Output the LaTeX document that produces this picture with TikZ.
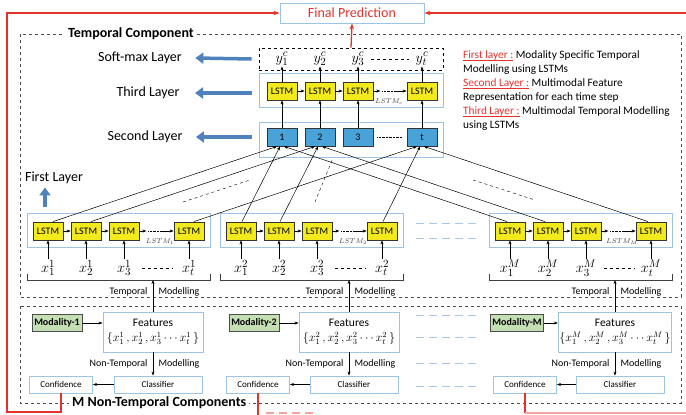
\documentclass[tikz,border=0pt]{standalone}
\usepackage{fontspec}
\setmainfont{Carlito}
\usetikzlibrary{arrows.meta, positioning, calc}
\definecolor{cellyellow}{HTML}{F2EA1C}
\definecolor{cellblue}{HTML}{4AA3D8}
\definecolor{frameblue}{HTML}{9DC3E6}
\definecolor{pointblue}{HTML}{4F81BD}
\definecolor{modgreen}{HTML}{C5DFB4}
\definecolor{predred}{HTML}{E5322D}
\definecolor{fadered}{HTML}{F5A3A3}
\definecolor{gapblue}{HTML}{A8C6E6}
% red underlined heading in the notes
\newcommand\redmark[1]{\textcolor{predred}{\setbox0\hbox{#1}\rlap{\rule[-2.6pt]{\wd0}{0.5pt}}\box0}}

\begin{document}
\begin{tikzpicture}[x=1pt, y=-1pt,
    lstm/.style={draw=black!80, line width=0.8pt, fill=cellyellow, minimum width=30pt,
        minimum height=18pt, inner sep=0pt, font=\fontsize{10}{10}\selectfont},
    cell/.style={lstm, fill=cellblue},
    holder/.style={draw=frameblue, line width=0.9pt},
    plainbox/.style={draw=frameblue, line width=0.9pt, inner sep=1pt},
    modality/.style={draw=black!70, line width=0.8pt, fill=modgreen, minimum width=50pt,
        minimum height=17pt, inner sep=2pt, font=\fontsize{10}{10}\selectfont\bfseries},
    conn/.style={-{Stealth[length=4pt,width=3pt]}, line width=0.5pt},
    fat/.style={pointblue, line width=3.5pt, -{Triangle[length=8pt,width=11pt]}},
    layername/.style={font=\fontsize{14}{16}\selectfont},
    lbl/.style={font=\fontsize{10}{12}\selectfont},
    var/.style={font=\fontsize{15}{17}\selectfont, inner sep=0.5pt},
    redline/.style={predred, line width=1.3pt},
    part/.style={dashed, line width=0.9pt, black!70},
    gap/.style={gapblue, line width=0.9pt, dash pattern=on 8pt off 5pt}
  ]
  \useasboundingbox (0,0) rectangle (686,415);

  % Output
  \node[plainbox, minimum width=144pt, minimum height=20pt, text=predred, layername] (fp) at (352,13) {Final Prediction};

  % Dashed parts
  \draw[part] (20,34) rectangle (681,297);
  \node[fill=white, anchor=west, inner sep=3pt, font=\fontsize{14}{16}\selectfont\bfseries] at (65,34) {Temporal Component};
  \draw[part] (20,306) rectangle (681,403);
  \node[fill=white, anchor=west, inner sep=3pt, font=\fontsize{14}{16}\selectfont\bfseries] at (69,403) {M Non-Temporal Components};

  % Upper layers
  \node[draw, dashed, line width=0.8pt, minimum width=184pt, minimum height=22pt] (soft) at (351,59) {};
  \node[holder, minimum width=184pt, minimum height=34pt] (third) at (351,90) {};
  \node[holder, minimum width=184pt, minimum height=35pt] (second) at (351,139.5) {};
  \foreach \i/\x in {1/282, 2/320, 3/358, t/422} {
    \node[var] (y\i) at (\x,59) {$y_{\i}^{c}$};
    \node[lstm] (c\i) at (\x,91) {LSTM};
    \node[cell] (v\i) at (\x,137) {\i};
    \draw[conn] (v\i) -- (c\i);
    \draw[conn] (c\i) -- (y\i);
  }
  \draw[dashed, line width=0.8pt] ([xshift=6pt]y3.east) -- ([xshift=-6pt]yt.west);
  \draw[conn] (c1) -- (c2);
  \draw[conn] (c2) -- (c3);
  \draw[conn] (c3.east) -- ++(7,0);
  \draw[densely dotted] ([xshift=9pt]c3.east) -- ([xshift=21pt]c3.east);
  \draw[conn] ([xshift=21pt]c3.east) -- (ct.west);
  \node[font=\fontsize{7}{8}\selectfont, text=black!75] at (389,102) {$LSTM_c$};
  \draw[densely dotted] ([xshift=4pt]v3.east) -- ([xshift=-4pt]vt.west);
  \draw[redline, -{Stealth[length=6pt]}] (soft.north) -- (fp.south);

  % Layer names
  \node[layername] (sml) at (140,58) {Soft-max Layer};
  \node[layername] (tl) at (148,93) {Third Layer};
  \node[layername] (sl) at (145,137) {Second Layer};
  \node[layername] (fl) at (54,178) {First Layer};
  \draw[fat] ([xshift=-7pt]soft.west) -- ([xshift=10pt]sml.east);
  \draw[fat] ([xshift=-7pt]third.west |- tl) -- ([xshift=12pt]tl.east);
  \draw[fat] ([xshift=-7pt]second.west |- sl) -- ([xshift=10pt]sl.east);
  \draw[fat] (45,207) -- (fl.south -| 45,0);

  % Notes
  \node[anchor=north west, align=left, inner sep=0pt, font=\fontsize{11.3}{14}\selectfont] (notes) at (463,50) {%
    \redmark{First layer :} Modality Specific Temporal\\
    Modelling using LSTMs\\
    \redmark{Second Layer :} Multimodal Feature\\
    Representation for each time step\\
    \redmark{Third Layer :} Multimodal Temporal Modelling\\
    using LSTMs};

  % First layer: one LSTM chain per modality
  \foreach \g/\b in {1/48, 2/241, M/510} {
    \draw[holder] (\b-21,213) rectangle (\b+162,247);
    \node[lstm] (l\g-1) at (\b,231) {LSTM};
    \node[lstm] (l\g-2) at (\b+38,231) {LSTM};
    \node[lstm] (l\g-3) at (\b+76,231) {LSTM};
    \node[lstm] (l\g-t) at (\b+141,231) {LSTM};
    \draw[conn] (l\g-1) -- (l\g-2);
    \draw[conn] (l\g-2) -- (l\g-3);
    \draw[conn] (l\g-3.east) -- ++(7,0);
    \draw[densely dotted] ([xshift=9pt]l\g-3.east) -- ([xshift=21pt]l\g-3.east);
    \draw[conn] ([xshift=21pt]l\g-3.east) -- (l\g-t.west);
    \node[font=\fontsize{7}{8}\selectfont, text=black!75] at (\b+112,242) {$LSTM_{\g}$};
    \foreach \i/\d in {1/0, 2/38, 3/76, t/141} {
      \node[var] (x\g-\i) at (\b+\d,268) {$x_{\i}^{\g}$};
      \draw[conn] (x\g-\i) -- (l\g-\i);
    }
    \draw[dashed, line width=0.8pt] (\b+94,268) -- (\b+125,268);
    \draw[line width=0.9pt, black!75] (\b-21,274) -- (\b-21,280) -- (\b+162,280) -- (\b+162,274);
  }

  % First layer -> second layer
  \foreach \g/\s/\e in {1/5/-5, 2/1/-2, M/-3/2}
    \foreach \i in {1,2,t}
      \draw[conn] ([xshift=\s pt]l\g-\i.north) -- ([xshift=\e pt]v\i.south);
  \draw[dashed] (183,202) -- (250,180);
  \draw[dashed] (315,202) -- (333,158);
  \draw[dashed] (473,180) -- (535,200);
  \foreach \y in {223,238,315,337,363,386}
    \draw[gap] (416,\y) -- (476,\y);

  % Non-temporal components
  \foreach \g/\f/\m/\k/\c in {1/153/57/61/158, 2/349/254/258/354, M/615/517/525/620} {
    \node[plainbox, minimum width=100pt, minimum height=40pt, align=center, font=\fontsize{11.5}{14}\selectfont] (f\g) at (\f,332)
      {Features\\[1pt]$\{x_1^{\g}\,,x_2^{\g}\,,x_3^{\g}\cdots x_t^{\g}\,\}$};
    \node[modality] (m\g) at (\m,323) {Modality-\g};
    \node[plainbox, minimum width=88pt, minimum height=17pt, font=\fontsize{9}{10}\selectfont] (cls\g) at (\c,384.5) {Classifier};
    \node[plainbox, minimum width=63pt, minimum height=17pt, font=\fontsize{9}{10}\selectfont] (conf\g) at (\k,384.5) {Confidence};
    \draw[conn] (m\g.east) -- (m\g.east -| f\g.west);
    \draw[conn] (f\g.north) -- (f\g.north |- 0,280);
    \draw[conn] (f\g.south) -- (f\g.south |- cls\g.north);
    \draw[conn] (cls\g.west) -- (conf\g.east);
    \node[lbl, anchor=east] at (\f-2,292) {Temporal};
    \node[lbl, anchor=west] at (\f+2,292) {Modelling};
    \node[lbl, anchor=east] at (\f-2,364) {Non-Temporal};
    \node[lbl, anchor=west] at (\f+2,364) {Modelling};
  }

  % Confidence scores to the output
  \draw[redline, -{Stealth[length=6pt]}] (conf1.south) |- (7,412) |- (fp.west);
  \draw[redline] (conf2.south) -- (conf2.south |- 0,415);
  \draw[fadered, line width=1.2pt, dash pattern=on 8pt off 5pt] (266,413) -- (316,413);
  \draw[redline] (confM.south) -- (confM.south |- 0,413);
  \draw[fadered, line width=1.2pt] (confM.south |- 0,413) -- (686,413);
  \draw[redline, -{Stealth[length=6pt]}] (686,13) -- (fp.east);
\end{tikzpicture}
\end{document}
